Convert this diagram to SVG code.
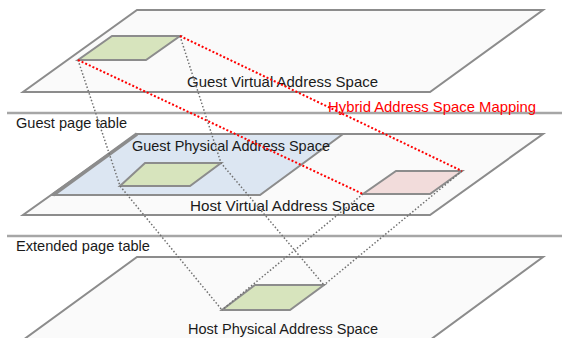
<svg xmlns="http://www.w3.org/2000/svg" width="562" height="338" viewBox="0 0 562 338">
<style>
.plane{fill:#fafafa;stroke:#8c8c8c;stroke-width:2;stroke-linejoin:miter}
.blue{fill:#dce6f2;stroke:#8c8c8c;stroke-width:2}
.green{fill:#d7e4bd;stroke:#8c8c8c;stroke-width:2}
.pink{fill:#f2dcdb;stroke:#8c8c8c;stroke-width:2}
.sep{stroke:#a6a6a6;stroke-width:2.5}
.lbl{font-family:"Liberation Sans",Arial,sans-serif;font-size:15px;fill:#1a1a1a}
.red{fill:#ff0000}
.gd{fill:none;stroke:#707070;stroke-width:1.5;stroke-dasharray:1.5,2}
.rd{fill:none;stroke:#ff0000;stroke-width:2;stroke-dasharray:2,2}
</style>
<rect width="562" height="338" fill="#ffffff"/>
<g id="separators">
<line class="sep" x1="7" y1="113" x2="562" y2="113"/>
<line class="sep" x1="7" y1="236" x2="562" y2="236"/>
</g>
<g id="guest-page-table">
<text class="lbl" x="16" y="128" textLength="111" lengthAdjust="spacingAndGlyphs">Guest page table</text>
</g>
<g id="extended-page-table">
<text class="lbl" x="16" y="251" textLength="134" lengthAdjust="spacingAndGlyphs">Extended page table</text>
</g>
<g id="guest-virtual">
<polygon class="plane" points="137,10 543,10 430,92 23,92"/>
<text class="lbl" x="187" y="87" textLength="191" lengthAdjust="spacingAndGlyphs">Guest Virtual Address Space</text>
</g>
<g id="guest-virtual-page">
<polygon class="green" points="112,36 180,36 146,60 78,60"/>
</g>
<g id="host-virtual">
<polygon class="plane" points="137,134 543,134 430,215 23,215"/>
</g>
<g id="guest-physical">
<polygon class="blue" points="137,134 343,134 260,195 53,195"/>
<line x1="137" y1="134" x2="53" y2="195" stroke="#8c8c8c" stroke-width="3.5"/>
<text class="lbl" x="132" y="151" textLength="198" lengthAdjust="spacingAndGlyphs">Guest Physical Address Space</text>
</g>
<g id="host-virtual-label">
<text class="lbl" x="190" y="211" textLength="185" lengthAdjust="spacingAndGlyphs">Host Virtual Address Space</text>
</g>
<g id="guest-physical-page">
<polygon class="green" points="145,163 221,163 190,186 120,186"/>
</g>
<g id="host-virtual-page">
<polygon class="pink" points="396,171 462,171 430,194 363,194"/>
</g>
<g id="host-physical">
<polygon class="plane" points="137,257 543,257 430,340 23,340"/>
<text class="lbl" x="188" y="334" textLength="190" lengthAdjust="spacingAndGlyphs">Host Physical Address Space</text>
</g>
<g id="host-physical-page">
<polygon class="green" points="255,285 324,285 290,310 222,310"/>
</g>
<g id="connectors">
<polyline class="gd" points="180,36 221,163 324,285"/>
<polyline class="gd" points="78,60 120,186 222,310"/>
<line class="gd" x1="462" y1="171" x2="324" y2="285"/>
<line class="gd" x1="363" y1="194" x2="222" y2="310"/>
<line class="rd" x1="180" y1="36" x2="462" y2="171"/>
<line class="rd" x1="78" y1="60" x2="363" y2="194"/>
</g>
<g id="hybrid-mapping">
<text class="lbl red" x="328" y="112" textLength="208" lengthAdjust="spacingAndGlyphs">Hybrid Address Space Mapping</text>
</g>
</svg>
